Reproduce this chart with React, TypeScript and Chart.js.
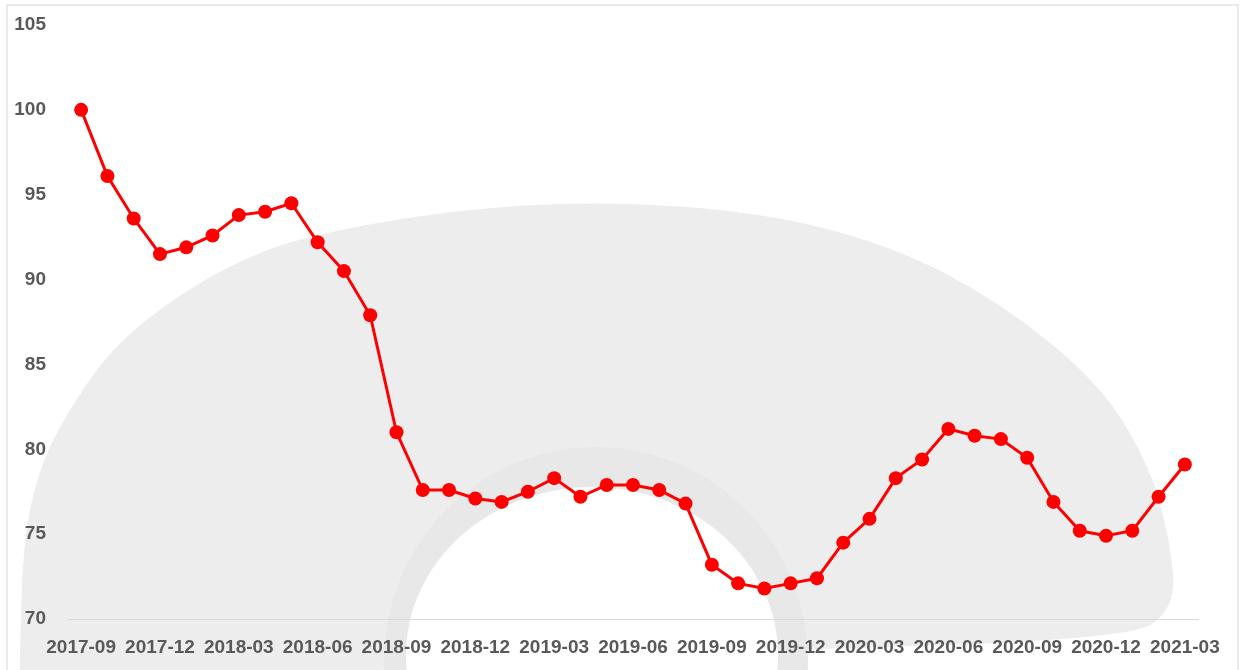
import React, { useEffect, useRef } from "react";
import { Chart, registerables } from "chart.js";

Chart.register(...registerables);

const months: string[] = [
  "2017-09", "2017-10", "2017-11", "2017-12",
  "2018-01", "2018-02", "2018-03", "2018-04", "2018-05", "2018-06", "2018-07", "2018-08", "2018-09", "2018-10", "2018-11", "2018-12",
  "2019-01", "2019-02", "2019-03", "2019-04", "2019-05", "2019-06", "2019-07", "2019-08", "2019-09", "2019-10", "2019-11", "2019-12",
  "2020-01", "2020-02", "2020-03", "2020-04", "2020-05", "2020-06", "2020-07", "2020-08", "2020-09", "2020-10", "2020-11", "2020-12",
  "2021-01", "2021-02", "2021-03",
];

const indexValues: number[] = [
  100.0, 96.1, 93.6, 91.5,
  91.9, 92.6, 93.8, 94.0, 94.5, 92.2, 90.5, 87.9, 81.0, 77.6, 77.6, 77.1,
  76.9, 77.5, 78.3, 77.2, 77.9, 77.9, 77.6, 76.8, 73.2, 72.1, 71.8, 72.1,
  72.4, 74.5, 75.9, 78.3, 79.4, 81.2, 80.8, 80.6, 79.5, 76.9, 75.2, 74.9,
  75.2, 77.2, 79.1,
];

const yMin = 70;
const yMax = 105;
const yStep = 5;
const labelEvery = 3;

// decorative background watermark outline (page pixels)
const outline: [number, number][] = [
  [20, 690], [20, 560], [38, 470], [67, 413], [110, 350], [167, 303], [230, 265], [300, 237],
  [450, 210], [600, 201], [760, 212], [890, 245], [997, 300], [1100, 383],
  [1150, 467], [1170, 540], [1176, 608], [1128, 640], [700, 652], [20, 690],
];

const watermark = {
  id: "watermark",
  beforeDraw(chart: any) {
    const ctx = chart.ctx as CanvasRenderingContext2D;
    ctx.save();
    ctx.fillStyle = "#ededed";
    ctx.beginPath();
    ctx.moveTo(outline[0][0], outline[0][1]);
    for (let i = 1; i < outline.length - 1; i++) {
      const [x, y] = outline[i];
      const [nx, ny] = outline[i + 1];
      ctx.quadraticCurveTo(x, y, (x + nx) / 2, (y + ny) / 2);
    }
    const last = outline[outline.length - 1];
    ctx.lineTo(last[0], last[1]);
    ctx.closePath();
    ctx.fill();
    ctx.fillStyle = "#e8e8e8";
    ctx.beginPath();
    ctx.ellipse(596, 662, 212, 215, 0, 0, Math.PI * 2);
    ctx.fill();
    ctx.fillStyle = "#ffffff";
    ctx.beginPath();
    ctx.ellipse(592, 655, 186, 168, 0, 0, Math.PI * 2);
    ctx.fill();
    ctx.restore();
  },
};

export default function App() {
  const canvasRef = useRef<HTMLCanvasElement | null>(null);

  useEffect(() => {
    if (!canvasRef.current) return;
    const chart = new Chart(canvasRef.current, {
      type: "line",
      data: {
        labels: months,
        datasets: [
          {
            data: indexValues,
            borderColor: "#ff0000",
            backgroundColor: "#ff0000",
            borderWidth: 3,
            pointRadius: 7,
            pointBackgroundColor: "#ff0000",
            pointBorderColor: "#ff0000",
            pointBorderWidth: 0,
            tension: 0,
          },
        ],
      },
      options: {
        animation: false,
        responsive: false,
        maintainAspectRatio: false,
        layout: { autoPadding: false, padding: { top: 25, right: 42, left: 0, bottom: 0 } },
        plugins: {
          legend: { display: false },
          title: { display: false },
          tooltip: { enabled: false },
        },
        scales: {
          x: {
            offset: true,
            grid: { display: true, color: "rgba(0,0,0,0)", drawTicks: false },
            border: { display: true, color: "#d9d9d9", width: 1 },
            ticks: {
              autoSkip: false,
              maxRotation: 0,
              minRotation: 0,
              padding: 17,
              color: "#595959",
              font: { family: "'Liberation Sans', Arial, sans-serif", size: 19, weight: "bold" },
              callback: (_v: any, i: number) => (i % labelEvery === 0 ? months[i] : ""),
            },
            afterFit: (scale: any) => {
              scale.height = 51;
            },
          },
          y: {
            min: yMin,
            max: yMax,
            grid: { display: false, drawTicks: false },
            border: { display: false },
            ticks: {
              stepSize: yStep,
              padding: 22,
              color: "#595959",
              font: { family: "'Liberation Sans', Arial, sans-serif", size: 19, weight: "bold" },
            },
            afterFit: (scale: any) => {
              scale.width = 68;
              scale.paddingTop = 0;
            },
          },
        },
      },
      plugins: [watermark],
    });
    return () => chart.destroy();
  }, []);

  return (
    <div style={{ position: "fixed", left: 0, top: 0, width: 1240, height: 670, background: "#ffffff", overflow: "hidden" }}>
      <canvas ref={canvasRef} width={1240} height={670} style={{ position: "absolute", left: 0, top: 0 }} />
      <div
        style={{
          position: "absolute",
          left: 6,
          top: 4,
          width: 1229,
          height: 720,
          border: "2px solid #e9e9e9",
          pointerEvents: "none",
        }}
      />
    </div>
  );
}
